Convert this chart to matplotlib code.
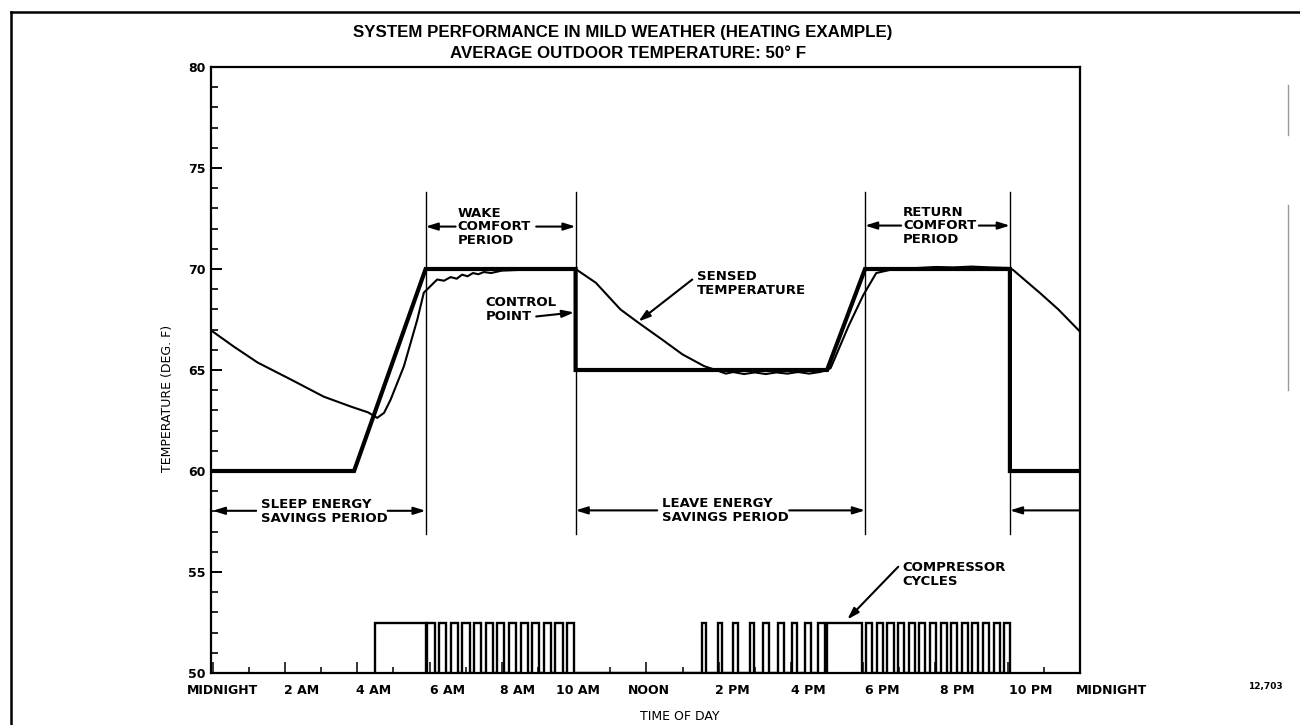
import numpy as np
import matplotlib
matplotlib.use('Agg')
import matplotlib.pyplot as plt
from matplotlib.lines import Line2D
from matplotlib.transforms import ScaledTranslation, blended_transform_factory

# Datos (horas del dia, grados F)
control_h = [0, 3.91, 5.89, 10.04, 10.04, 17.0, 18.05, 22.06, 22.06, 24]
control_t = [60, 60, 70, 70, 65, 65, 70, 70, 60, 60]

sensed_h = [0.0, 0.58, 1.24, 2.16, 3.07, 3.82, 4.3, 4.55, 4.74, 4.92, 5.29, 5.66,
            5.84, 6.21, 6.4, 6.58, 6.75, 6.9, 7.05, 7.2, 7.35, 7.5, 7.7, 8.0,
            8.42, 8.8, 9.25, 9.7, 10.04, 10.6, 11.28, 11.78, 12.44, 13.0, 13.6,
            14.0, 14.2, 14.4, 14.7, 15.0, 15.3, 15.6, 15.9, 16.2, 16.5, 16.8,
            17.0, 17.1, 17.6, 18.0, 18.36, 18.85, 19.5, 20.0, 20.5, 21.0, 21.5,
            22.06, 22.15, 22.9, 23.4, 24.0]
sensed_t = [66.9, 66.16, 65.37, 64.53, 63.68, 63.19, 62.9, 62.63, 62.88, 63.53,
            65.19, 67.5, 68.83, 69.48, 69.42, 69.6, 69.52, 69.72, 69.64, 69.8,
            69.74, 69.85, 69.8, 69.92, 69.95, 69.98, 70.05, 70.02, 70.0, 69.32,
            68.0, 67.34, 66.5, 65.77, 65.19, 64.95, 64.82, 64.9, 64.8, 64.88,
            64.8, 64.88, 64.82, 64.9, 64.82, 64.9, 65.0, 65.1, 67.2, 68.7, 69.8,
            70.0, 70.05, 70.1, 70.08, 70.12, 70.08, 70.05, 69.95, 68.8, 68.0, 66.9]

# Ciclos del compresor: inicio (h) y duracion (h)
cycle_start = [4.5,
               5.94, 6.26, 6.59, 6.91, 7.23, 7.55, 7.87, 8.2, 8.52, 8.84, 9.16, 9.48, 9.8,
               13.53, 13.98, 14.41, 14.86, 15.24, 15.65, 16.02, 16.38, 16.76,
               17.0,
               18.08, 18.37, 18.67, 18.96, 19.26, 19.55, 19.84, 20.14, 20.43,
               20.73, 21.02, 21.31, 21.61, 21.9]
cycle_len = [1.39,
             0.2, 0.2, 0.2, 0.2, 0.2, 0.2, 0.2, 0.2, 0.2, 0.2, 0.2, 0.2, 0.2,
             0.11, 0.12, 0.13, 0.12, 0.15, 0.16, 0.14, 0.17, 0.18,
             0.97,
             0.17, 0.17, 0.17, 0.17, 0.17, 0.17, 0.17, 0.17, 0.17,
             0.17, 0.17, 0.17, 0.17, 0.16]
cycle_on = 52.5

period_lines = [5.89, 10.04, 18.05, 22.06]

x_ticks = [0, 2, 4, 6, 8, 10, 12, 14, 16, 18, 20, 22, 24]
x_labels = ['MIDNIGHT', '2 AM', '4 AM', '6 AM', '8 AM', '10 AM', 'NOON',
            '2 PM', '4 PM', '6 PM', '8 PM', '10 PM', 'MIDNIGHT']
x_shift_px = [10, 16, 16, 18, 16, 4, 2, 14, 17, 19, 22, 23, -4]

W, H = 1300, 725
fig = plt.figure(figsize=(13, 7.25), dpi=100)
ax = fig.add_axes([211 / W, 1 - 673 / H, (1080 - 211) / W, (673 - 67) / H])
ax.set_xlim(-0.05, 24)
ax.set_ylim(50, 80)

for s in ax.spines.values():
    s.set_linewidth(1.6)

lab_font = dict(family='DejaVu Sans', fontweight='bold', fontsize=9)

# ejes y marcas
ax.set_yticks(range(50, 81, 5))
ax.set_yticks(range(50, 81, 1), minor=True)
ax.set_yticklabels([str(v) for v in range(50, 81, 5)], **lab_font)
ax.tick_params(axis='y', which='major', direction='in', length=8, width=1.4, pad=4)
ax.tick_params(axis='y', which='minor', direction='in', length=5, width=1.2)
ax.set_xticks(x_ticks)
ax.set_xticks(range(0, 25), minor=True)
ax.tick_params(axis='x', which='major', direction='in', length=8, width=1.1, labelbottom=False)
ax.tick_params(axis='x', which='minor', direction='in', length=4, width=1.1)

trans = blended_transform_factory(ax.transData, ax.transAxes)
for h, lab, dx in zip(x_ticks, x_labels, x_shift_px):
    off = ScaledTranslation(dx / 100, -17 / 100, fig.dpi_scale_trans)
    ha = 'left' if h == 24 else 'center'
    ax.text(h, 0, lab, transform=trans + off, ha=ha, va='center', **lab_font)

# lineas de periodos
for h in period_lines:
    ax.plot([h, h], [56.9, 73.8], color='black', lw=1.0)

# compresor
cx, cy = [], []
for s, w in zip(cycle_start, cycle_len):
    cx += [s, s, s + w, s + w]
    cy += [50, cycle_on, cycle_on, 50]
ax.plot(cx, cy, color='black', lw=1.7, solid_joinstyle='miter')

# temperatura sensada y punto de control
ax.plot(sensed_h, sensed_t, color='black', lw=1.5)
ax.plot(control_h, control_t, color='black', lw=3.0, solid_joinstyle='miter')

arrow = dict(arrowstyle='-|>,head_length=0.7,head_width=0.22', color='black',
             lw=1.5, shrinkA=0, shrinkB=0)
ann_font = dict(family='DejaVu Sans', fontweight='bold', fontsize=9.5, linespacing=1.05)


def arr(tail, head):
    ax.annotate('', xy=head, xytext=tail, arrowprops=arrow)


ax.text(6.77, 72.1, 'WAKE\nCOMFORT\nPERIOD', ha='left', va='center', **ann_font)
arr((6.72, 72.1), (5.89, 72.1))
arr((8.95, 72.1), (10.04, 72.1))

ax.text(19.1, 72.15, 'RETURN\nCOMFORT\nPERIOD', ha='left', va='center', **ann_font)
arr((19.05, 72.15), (18.05, 72.15))
arr((21.2, 72.15), (22.06, 72.15))

ax.text(1.33, 58.0, 'SLEEP ENERGY\nSAVINGS PERIOD', ha='left', va='center', **ann_font)
arr((1.2, 58.03), (0.0, 58.03))
arr((4.84, 58.03), (5.89, 58.03))

ax.text(12.44, 58.05, 'LEAVE ENERGY\nSAVINGS PERIOD', ha='left', va='center', **ann_font)
arr((12.3, 58.05), (10.04, 58.05))
arr((15.95, 58.05), (18.05, 58.05))

arr((24.0, 58.05), (22.06, 58.05))

ax.text(7.55, 68.0, 'CONTROL\nPOINT', ha='left', va='center', **ann_font)
arr((8.95, 67.65), (10.0, 67.85))

ax.text(13.41, 69.29, 'SENSED\nTEMPERATURE', ha='left', va='center', **ann_font)
arr((13.27, 69.48), (11.78, 67.4))

ax.text(19.08, 54.88, 'COMPRESSOR\nCYCLES', ha='left', va='center', **ann_font)
arr((18.97, 55.26), (17.56, 52.65))

# titulos y etiquetas
title_font = dict(family=['Liberation Sans Narrow', 'Liberation Sans'],
                  fontweight='bold', fontsize=12.2)
fig.text(623 / W, 1 - 33 / H, 'SYSTEM PERFORMANCE IN MILD WEATHER (HEATING EXAMPLE)',
         ha='center', va='center', **title_font)
fig.text(628 / W, 1 - 53 / H, 'AVERAGE OUTDOOR TEMPERATURE: 50\u00b0 F',
         ha='center', va='center', **title_font)
fig.text(168 / W, 1 - 398 / H, 'TEMPERATURE (DEG. F)', rotation=90,
         ha='center', va='center', family='DejaVu Sans', fontsize=9)
fig.text(680 / W, 1 - 716 / H, 'TIME OF DAY', ha='center', va='center',
         family='DejaVu Sans', fontsize=9)
fig.text(1265 / W, 1 - 687 / H, '12,703', ha='center', va='center',
         family='DejaVu Sans', fontweight='bold', fontsize=6.5)

# marco de la pagina
fig.add_artist(Line2D([11 / W, 11 / W], [0, 1 - 12 / H], color='black', lw=1.8))
fig.add_artist(Line2D([11 / W, 1], [1 - 12 / H, 1 - 12 / H], color='black', lw=1.8))
fig.add_artist(Line2D([1288 / W, 1288 / W], [1 - 390 / H, 1 - 205 / H], color='0.6', lw=1.0))
fig.add_artist(Line2D([1288 / W, 1288 / W], [1 - 135 / H, 1 - 85 / H], color='0.6', lw=1.0))

fig.savefig('out.png', dpi=100)
